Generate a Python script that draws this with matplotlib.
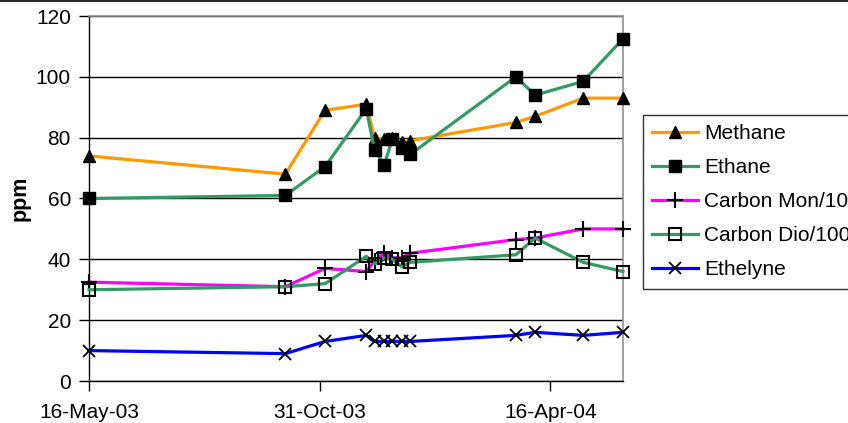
import matplotlib
matplotlib.use("Agg")
import matplotlib.pyplot as plt
import matplotlib.dates as mdates
from matplotlib.lines import Line2D
import datetime as dt

plt.rcParams['font.family'] = ['Liberation Sans', 'DejaVu Sans']

dates = ["2003-05-16", "2003-10-06", "2003-11-04", "2003-12-04",
         "2003-12-10", "2003-12-17", "2003-12-23", "2003-12-30", "2004-01-05",
         "2004-03-22", "2004-04-05", "2004-05-10", "2004-06-08"]
methane = [74, 68, 89, 91, 80, 79.5, 80, 78.5, 79, 85, 87, 93, 93]
ethane = [60, 61, 70.5, 89.5, 76, 71, 79.5, 76.5, 74.5, 100, 94, 98.5, 112.5]
carbon_mon = [32.5, 31, 37, 36, 39.5, 42, 40.5, 40.5, 42, 46.5, 47, 50, 50]
carbon_dio = [30, 31, 32, 41, 38.5, 40.5, 40, 37.5, 39, 41.5, 47, 39, 36]
ethelyne = [10, 9, 13, 15, 13, 13, 13, 13, 13, 15, 16, 15, 16]

series_names = ["Methane", "Ethane", "Carbon Mon/10", "Carbon Dio/100", "Ethelyne"]
xtick_labels = ["2003-05-16", "2003-10-31", "2004-04-16"]
x_end = "2004-06-08"

x = [dt.datetime.strptime(d, "%Y-%m-%d") for d in dates]

fig = plt.figure(figsize=(8.48, 4.23), dpi=100)
ax = fig.add_axes([89/848, 1 - 381/423, (623-89)/848, (381-16)/423])

lw = 2.3
common = dict(lw=lw, zorder=3, clip_on=False)
ax.plot(x, methane, color='#FF9900', marker='^', ms=9, mfc='black', mec='black', label=series_names[0], **common)
ax.plot(x, ethane, color='#339966', marker='s', ms=8, mfc='black', mec='black', label=series_names[1], **common)
ax.plot(x, carbon_mon, color='#FF00FF', marker='+', ms=11, mew=1.5, mec='black', label=series_names[2], **common)
ax.plot(x, carbon_dio, color='#339966', marker='s', ms=8, mfc='none', mec='black', mew=1.5, label=series_names[3], **common)
ax.plot(x, ethelyne, color='#0000FF', marker='x', ms=9, mew=1.3, mec='black', label=series_names[4], **common)

ax.set_xlim(x[0], dt.datetime.strptime(x_end, "%Y-%m-%d"))
ax.set_ylim(0, 120)
ax.set_yticks(range(0, 121, 20))
ax.yaxis.grid(True, color='black', lw=1.0)
ax.set_axisbelow(True)

xt = [dt.datetime.strptime(d, "%Y-%m-%d") for d in xtick_labels]
ax.set_xticks(xt)
ax.xaxis.set_major_formatter(mdates.DateFormatter('%d-%b-%y'))

ax.tick_params(axis='both', direction='out', length=7, width=1, labelsize=15, colors='black')
ax.tick_params(axis='x', pad=9)
ax.tick_params(axis='y', pad=6)

for s in ['top', 'right']:
    ax.spines[s].set_color('#909090')
    ax.spines[s].set_linewidth(1.2)
for s in ['left', 'bottom']:
    ax.spines[s].set_color('black')
    ax.spines[s].set_linewidth(1.0)

ax.set_ylabel('ppm', fontsize=15.5, fontweight='bold', labelpad=4)

leg = fig.legend(loc='upper left', bbox_to_anchor=(643/848, 1 - 115/423),
                 fontsize=15, frameon=True, fancybox=False, edgecolor='black',
                 handlelength=2.2, handletextpad=0.3, labelspacing=0.72,
                 borderpad=0.45, borderaxespad=0)
leg.get_frame().set_linewidth(1.0)

fig.add_artist(Line2D([0, 1], [1 - 1.5/423, 1 - 1.5/423], color='black', lw=1.2, transform=fig.transFigure))

fig.savefig('out.png', dpi=100)
